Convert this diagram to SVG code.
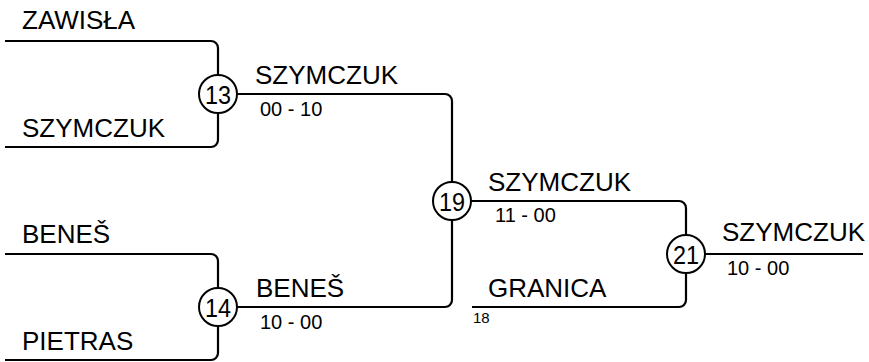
<svg xmlns="http://www.w3.org/2000/svg" width="869" height="362" viewBox="0 0 869 362">
<style>
.ln{fill:none;stroke:#000;stroke-width:2.2}
.c{fill:#fff;stroke:#000;stroke-width:2}
.nm{font-family:"Liberation Sans",Arial,sans-serif;font-size:26px;fill:#000}
.sc{font-family:"Liberation Sans",Arial,sans-serif;font-size:20px;fill:#000}
.sd{font-family:"Liberation Sans",Arial,sans-serif;font-size:15px;fill:#000}
.num{font-family:"Liberation Sans",Arial,sans-serif;font-size:26px;fill:#000;text-anchor:middle}
</style>
<rect width="869" height="362" fill="#fff"/>
<g id="connectors">
<path class="ln" d="M5,41 H211 A7,7 0 0 1 218,48 V75"/>
<path class="ln" d="M218,113 V140 A7,7 0 0 1 211,147 H5"/>
<path class="ln" d="M237,94 H445 A7,7 0 0 1 452,101 V182"/>
<path class="ln" d="M5,254 H211 A7,7 0 0 1 218,261 V288"/>
<path class="ln" d="M218,326 V353 A7,7 0 0 1 211,360 H5"/>
<path class="ln" d="M237,307 H445 A7,7 0 0 0 452,300 V220"/>
<path class="ln" d="M471,201 H679 A7,7 0 0 1 686,208 V235"/>
<path class="ln" d="M472,307 H679 A7,7 0 0 0 686,300 V273"/>
<path class="ln" d="M705,254 H863"/>
</g>
<g id="labels">
<text class="nm" x="22" y="29">ZAWISŁA</text>
<text class="nm" x="22" y="137">SZYMCZUK</text>
<text class="nm" x="22" y="243">BENEŠ</text>
<text class="nm" x="22" y="350">PIETRAS</text>
<text class="nm" x="255" y="84">SZYMCZUK</text>
<text class="sc" x="260" y="116">00 - 10</text>
<text class="nm" x="256" y="297">BENEŠ</text>
<text class="sc" x="260" y="329">10 - 00</text>
<text class="nm" x="488" y="191">SZYMCZUK</text>
<text class="sc" x="495" y="222">11 - 00</text>
<text class="nm" x="488" y="297">GRANICA</text>
<text class="sd" x="473" y="323">18</text>
<text class="nm" x="722" y="241">SZYMCZUK</text>
<text class="sc" x="727" y="275">10 - 00</text>
</g>
<g id="node-13">
<circle class="c" cx="218" cy="94" r="19"/>
<text class="num" x="218" y="103.5" textLength="26" lengthAdjust="spacingAndGlyphs">13</text>
</g>
<g id="node-14">
<circle class="c" cx="218" cy="307" r="19"/>
<text class="num" x="218" y="316.5" textLength="26" lengthAdjust="spacingAndGlyphs">14</text>
</g>
<g id="node-19">
<circle class="c" cx="452" cy="201" r="19"/>
<text class="num" x="452" y="210.5" textLength="26" lengthAdjust="spacingAndGlyphs">19</text>
</g>
<g id="node-21">
<circle class="c" cx="686" cy="254" r="19"/>
<text class="num" x="686" y="263.5" textLength="26" lengthAdjust="spacingAndGlyphs">21</text>
</g>
</svg>
